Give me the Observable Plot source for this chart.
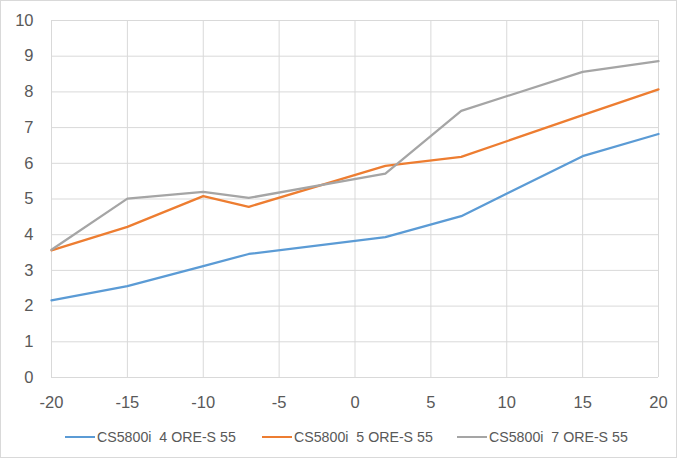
<!DOCTYPE html>
<html><head><meta charset="utf-8">
<script src="https://cdn.jsdelivr.net/npm/d3@7"></script>
<script src="https://cdn.jsdelivr.net/npm/@observablehq/plot@0.6"></script>
<style>
html,body{margin:0;padding:0;background:#fff;}
#wrap{position:relative;width:675px;height:456px;border:1px solid #d9d9d9;overflow:hidden;font-family:"Liberation Sans",Arial,sans-serif;}
#legend{position:absolute;left:0;top:424px;width:675px;height:24px;font-size:14.2px;color:#595959;}
.item{position:absolute;top:0;display:flex;align-items:center;height:24px;white-space:pre;}
.sw{display:inline-block;width:30px;height:2.5px;margin-right:2px;}
</style></head><body>
<div id="wrap"><div id="chart"></div><div id="legend"></div></div>
<script>
const temps = [-20, -15, -10, -7, 2, 7, 15, 20];
const series = ["CS5800i  4 ORE-S 55", "CS5800i  5 ORE-S 55", "CS5800i  7 ORE-S 55"];
const cop4 = [2.16, 2.56, 3.12, 3.46, 3.93, 4.52, 6.20, 6.82];
const cop5 = [3.56, 4.22, 5.08, 4.78, 5.93, 6.18, 7.35, 8.07];
const cop7 = [3.58, 5.01, 5.20, 5.03, 5.71, 7.47, 8.56, 8.86];
const colors = ["#5B9BD5", "#ED7D31", "#A5A5A5"];
const xTicks = [-20, -15, -10, -5, 0, 5, 10, 15, 20];
const yTicks = [0, 1, 2, 3, 4, 5, 6, 7, 8, 9, 10];

const values = [cop4, cop5, cop7];
const data = [];
series.forEach((s, i) => temps.forEach((t, j) => data.push({series: s, x: t, y: values[i][j]})));

const fmt = d => String(d);
const chart = Plot.plot({
  width: 675, height: 418,
  marginLeft: 50, marginRight: 18, marginTop: 19, marginBottom: 42,
  style: {fontFamily: '"Liberation Sans", Arial, sans-serif', fontSize: "16.5px", color: "#595959", background: "#fff"},
  x: {domain: [-20, 20], label: null},
  y: {domain: [0, 10], label: null},
  color: {domain: series, range: colors},
  marks: [
    Plot.gridX(xTicks, {stroke: "#d9d9d9", strokeOpacity: 1, strokeWidth: 1}),
    Plot.gridY(yTicks, {stroke: "#d9d9d9", strokeOpacity: 1, strokeWidth: 1}),
    Plot.axisX({ticks: xTicks, tickFormat: fmt, tickSize: 0, tickPadding: 19, fontSize: 16.5, fill: "#595959"}),
    Plot.axisY({ticks: yTicks, tickFormat: fmt, tickSize: 0, tickPadding: 18, fontSize: 16.5, fill: "#595959"}),
    Plot.line(data, {x: "x", y: "y", z: "series", stroke: "series", strokeWidth: 2.25, strokeLinejoin: "round"})
  ]
});
document.getElementById("chart").appendChild(chart);

const lefts = [64, 261, 456];
const leg = document.getElementById("legend");
series.forEach((s, i) => {
  const d = document.createElement("div");
  d.className = "item";
  d.style.left = lefts[i] + "px";
  d.innerHTML = `<span class="sw" style="background:${colors[i]}"></span><span>${s}</span>`;
  leg.appendChild(d);
});
</script>
</body></html>
